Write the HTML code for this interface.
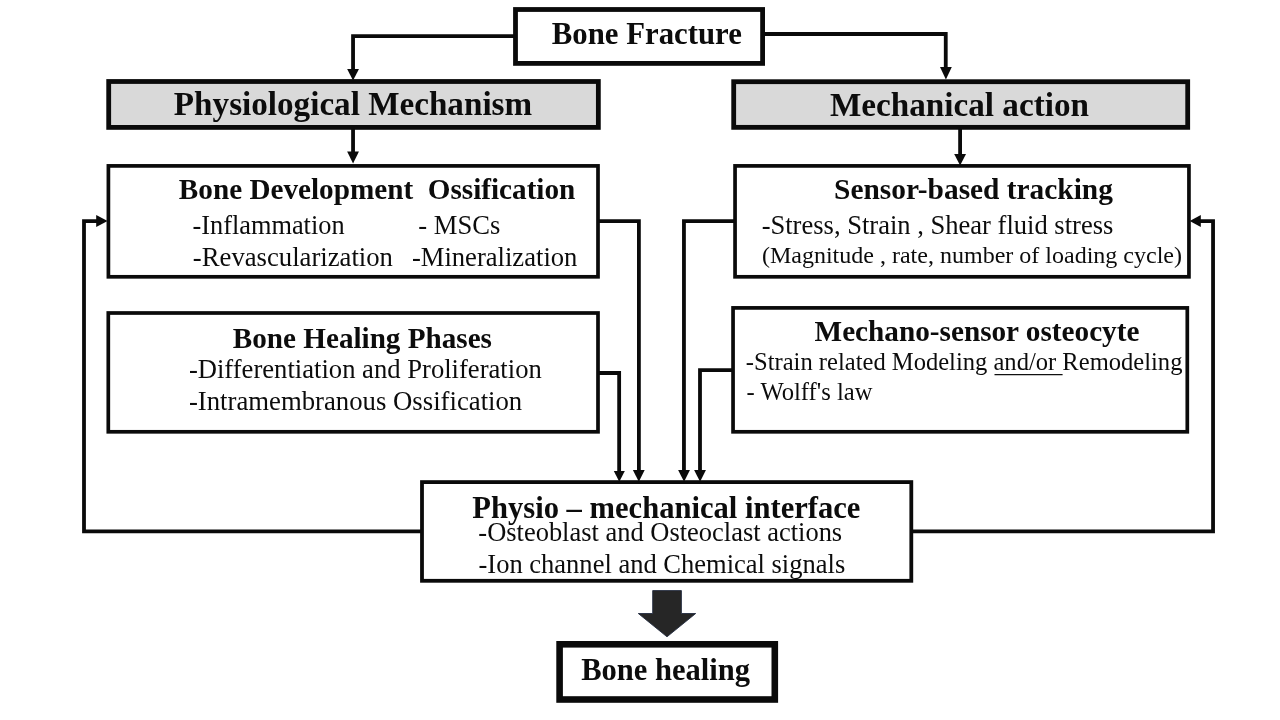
<!DOCTYPE html>
<html lang="en">
<head>
<meta charset="utf-8">
<title>Bone Fracture Healing Flowchart</title>
<style>
html,body{margin:0;padding:0;background:#fff;}
body{width:1280px;height:720px;overflow:hidden;}
svg{display:block;}
text{font-family:"Liberation Serif","Times New Roman",Times,serif;fill:#0c0c0c;white-space:pre;}
.tx{will-change:transform;}
.b{font-weight:bold;}
.box{fill:#fff;stroke:#0a0a0a;}
.ln{fill:none;stroke:#0a0a0a;stroke-width:3.8;stroke-linejoin:miter;}
.ah{fill:#0a0a0a;}
</style>
</head>
<body>
<svg width="1280" height="720" viewBox="0 0 1280 720">
<rect width="1280" height="720" fill="#fff"/>
<!-- connectors -->
<path class="ln" d="M515 36.05H353.05V70"/>
<path class="ah" d="M347.15 68.9H358.95L353.05 80.6Z"/>
<path class="ln" d="M763 34H945.75V68"/>
<path class="ah" d="M940.00 67.1H951.80L945.9 79.4Z"/>
<path class="ln" d="M353.05 128V152.5"/>
<path class="ah" d="M347.15 151.4H358.95L353.05 163.4Z"/>
<path class="ln" d="M960.1 128V155"/>
<path class="ah" d="M954.20 154.0H966.00L960.1 165.6Z"/>
<path class="ln" d="M598 221.05H638.9V471"/>
<path class="ah" d="M632.90 470.0H644.70L638.8 481.8Z"/>
<path class="ln" d="M598 373H619.15V472"/>
<path class="ah" d="M613.80 470.9H624.80L619.3 481.8Z"/>
<path class="ln" d="M735 221.05H683.95V471"/>
<path class="ah" d="M678.15 470.0H689.95L684.05 481.8Z"/>
<path class="ln" d="M733 370.1H700V471"/>
<path class="ah" d="M694.15 470.0H705.95L700.05 481.8Z"/>
<path class="ln" d="M422 531.35H84V221.1H97"/>
<path class="ah" d="M96.2 215.10V226.90L107.6 221.0Z"/>
<path class="ln" d="M911 531.35H1213.05V221.1H1200"/>
<path class="ah" d="M1200.8 215.10V226.90L1189.7 221.0Z"/>
<!-- boxes -->
<rect class="box" x="515.5" y="9.5" width="247.10" height="53.90" stroke-width="4.8"/>
<rect class="box" x="108.7" y="81.5" width="489.65" height="45.90" stroke-width="4.8" style="fill:#d9d9d9"/>
<rect class="box" x="733.7" y="81.7" width="454.00" height="45.65" stroke-width="4.8" style="fill:#d9d9d9"/>
<rect class="box" x="108.4" y="165.9" width="489.60" height="110.90" stroke-width="3.7"/>
<rect class="box" x="735.05" y="165.9" width="453.90" height="110.90" stroke-width="3.7"/>
<rect class="box" x="108.3" y="313.0" width="489.70" height="118.80" stroke-width="3.7"/>
<rect class="box" x="733.05" y="307.9" width="454.25" height="123.90" stroke-width="3.7"/>
<rect class="box" x="422.0" y="482.1" width="489.30" height="98.70" stroke-width="3.8"/>
<rect class="box" x="559.6" y="644.3" width="215.20" height="55.20" stroke-width="6.6"/>
<!-- block arrow -->
<path d="M652.7 590.6H681.4V613.5H695.7L667 636.8L638.3 613.5H652.7Z" fill="#262626" stroke="#232b40" stroke-width="0.9" stroke-linejoin="miter" stroke-miterlimit="10"/>
<!-- text -->
<path d="M994.5 374.6H1062.6" stroke="#111" stroke-width="1.2" fill="none"/>
<g class="tx">
<text class="b" x="551.84" y="43.75" font-size="30.79">Bone Fracture</text>
<text class="b" x="173.86" y="115.0" font-size="33.17">Physiological Mechanism</text>
<text class="b" x="830.0" y="116.1" font-size="33.2">Mechanical action</text>
<text class="b" xml:space="preserve" x="178.87" y="198.9" font-size="29.2">Bone Development  Ossification</text>
<text x="192.5" y="233.5" font-size="26.34">-Inflammation</text>
<text x="418.32" y="233.5" font-size="26.59">- MSCs</text>
<text x="192.86" y="266.0" font-size="26.69">-Revascularization</text>
<text x="411.88" y="266.0" font-size="26.62">-Mineralization</text>
<text class="b" x="834.06" y="198.6" font-size="29.38">Sensor-based tracking</text>
<text x="761.65" y="233.5" font-size="26.56">-Stress, Strain , Shear fluid stress</text>
<text x="761.92" y="262.7" font-size="24.02">(Magnitude , rate, number of loading cycle)</text>
<text class="b" x="232.87" y="347.7" font-size="29.15">Bone Healing Phases</text>
<text x="188.88" y="378.2" font-size="26.64">-Differentiation and Proliferation</text>
<text x="188.88" y="409.7" font-size="26.74">-Intramembranous Ossification</text>
<text class="b" x="814.59" y="341.0" font-size="29.23">Mechano-sensor osteocyte</text>
<text x="745.87" y="370.3" font-size="24.57">-Strain related Modeling and/or Remodeling</text>
<text x="746.47" y="400.25" font-size="24.64">- Wolff's law</text>
<text class="b" x="472.32" y="517.6" font-size="30.58">Physio – mechanical interface</text>
<text x="478.32" y="540.6" font-size="26.47">-Osteoblast and Osteoclast actions</text>
<text x="478.52" y="572.7" font-size="26.53">-Ion channel and Chemical signals</text>
<text class="b" x="581.17" y="679.5" font-size="30.56">Bone healing</text>
</g>
</svg>
</body>
</html>
